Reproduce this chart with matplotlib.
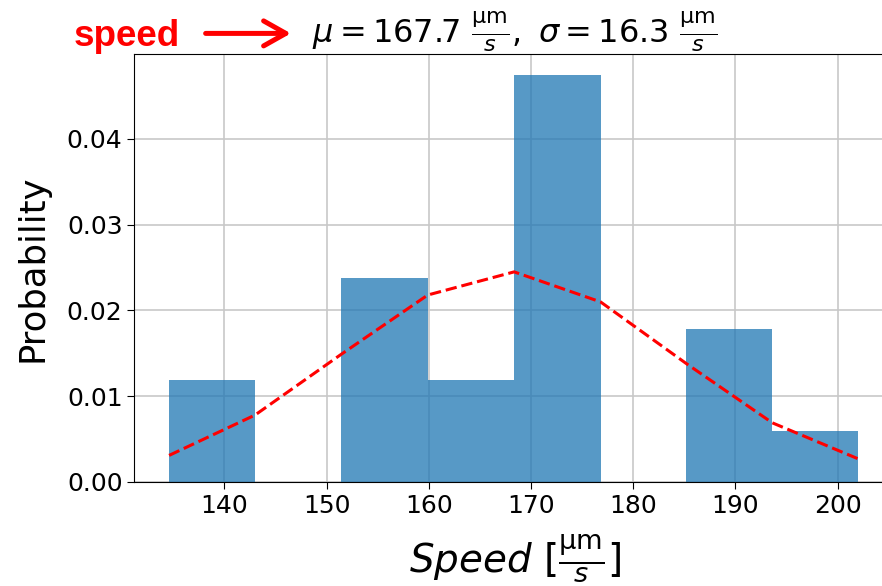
import matplotlib.pyplot as plt
from matplotlib.patches import FancyArrowPatch
import numpy as np

# Histogram bins (speed, um/s) and normalised counts
bin_edges = [134.6, 143.0, 151.45, 159.9, 168.35, 176.8, 185.2, 193.6, 202.0]
density = [0.01187, 0.0, 0.02374, 0.01187, 0.04748, 0.0, 0.01780, 0.00593]

# Fitted normal curve evaluated at the bin edges
fit_x = bin_edges
fit_y = [0.0031, 0.0078, 0.0149, 0.0218, 0.0245, 0.0210, 0.0138, 0.0069, 0.0027]

xticks = [140, 150, 160, 170, 180, 190, 200]
yticks = [0.00, 0.01, 0.02, 0.03, 0.04]

fig = plt.figure(figsize=(8.82, 5.86), dpi=100)
ax = fig.add_axes([0.1523, 0.1775, 0.8624, 0.7303])

widths = np.diff(bin_edges)
ax.bar(bin_edges[:-1], density, width=widths, align='edge',
       color='#1f77b4', alpha=0.75, zorder=2)
ax.plot(fit_x, fit_y, '--', color='red', linewidth=2.2, zorder=3)

ax.set_xlim(131.2, 205.6)
ax.set_ylim(0, 0.0499)
ax.set_xticks(xticks)
ax.set_yticks(yticks)
ax.set_yticklabels([f'{v:.2f}' for v in yticks])
ax.tick_params(labelsize=18, length=5)
ax.grid(True, color='#c8c8c8', linewidth=1.2, zorder=0)
ax.set_axisbelow(True)

ax.set_ylabel('Probability', fontsize=25.5)
ax.yaxis.set_label_coords(-0.112, 0.5)
ax.set_xlabel(r'$Speed\ [\frac{\mathrm{\mu m}}{s}]$', fontsize=28, labelpad=10)
ax.set_title(r'$\mu = 167.7\ \frac{\mathrm{\mu m}}{s},\ \sigma = 16.3\ \frac{\mathrm{\mu m}}{s}$',
             fontsize=23, pad=1)

# Red annotation on the left of the title
fig.text(0.083, 0.921, 'speed', color='red', fontsize=26.5, fontweight='bold',
         family='Liberation Sans', ha='left', va='baseline')
fig.patches.append(FancyArrowPatch(
    (0.230, 0.943), (0.333, 0.943), transform=fig.transFigure,
    arrowstyle='->,head_length=16,head_width=9', color='red', linewidth=3.6,
    mutation_scale=1))

fig.savefig('out.png', dpi=100)
